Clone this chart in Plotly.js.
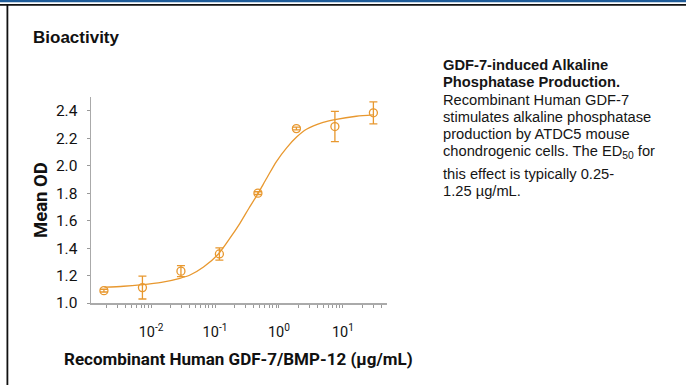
<!DOCTYPE html>
<html><head><meta charset="utf-8">
<script src="https://cdn.plot.ly/plotly-3.0.1.min.js"></script>
<style>html,body{margin:0;padding:0;background:#fff}#chart{width:686px;height:385px}</style>
</head><body><div id="chart"></div>
<script>
// Measured points (µg/mL, mean OD, ± error)
const concentration = [0.00183, 0.00732, 0.0293, 0.117, 0.469, 1.875, 7.5, 30];
const meanOD = [1.09, 1.112, 1.232, 1.357, 1.80, 2.27, 2.285, 2.385];
const errorOD = [0.01, 0.083, 0.04, 0.045, 0.01, 0.01, 0.11, 0.08];
// Fitted curve
const fitConcentration = [0.00186, 0.00372, 0.00676, 0.01445, 0.0282, 0.0407, 0.0661, 0.112, 0.170, 0.245, 0.339, 0.447, 0.646, 0.912, 1.318, 1.905, 2.69, 4.90, 7.50, 16.2, 29.5];
const fitOD = [1.115, 1.122, 1.132, 1.15, 1.18, 1.204, 1.262, 1.355, 1.47, 1.58, 1.69, 1.78, 1.91, 2.03, 2.13, 2.21, 2.265, 2.315, 2.335, 2.36, 2.37];
// Tick labels
const xDecades = [0.001, 0.01, 0.1, 1, 10];
const xMajorText = {0.01: '10<sup>-2</sup>', 0.1: '10<sup>-1</sup>', 1: '10<sup>0</sup>', 10: '10<sup>1</sup>'};
const yTickVals = [1.0, 1.2, 1.4, 1.6, 1.8, 2.0, 2.2, 2.4];
const yTickText = ['1.0', '1.2', '1.4', '1.6', '1.8', '2.0', '2.2', '2.4'];
// Texts
const sectionTitle = 'Bioactivity';
const yTitle = 'Mean OD';
const xTitle = 'Recombinant Human GDF-7/BMP-12 (µg/mL)';
const descLines = [
  '<b>GDF-7-induced Alkaline</b>',
  '<b>Phosphatase Production.</b>',
  'Recombinant Human GDF-7',
  'stimulates alkaline phosphatase',
  'production by ATDC5 mouse',
  'chondrogenic cells. The ED<sub>50</sub> for',
  'this effect is typically 0.25-',
  '1.25 µg/mL.'
];

const W = 686, H = 385;
const px = x => x / W, py = y => 1 - y / H;
const orange = '#E8982F';
const narrow = 'Roboto, "Liberation Sans Narrow", Arial, sans-serif';
const arial = 'Arial, "Liberation Sans", sans-serif';

// build log tick positions (decades plus 2..9 minors), labels only on decades
const xTickVals = [], xTickText = [];
xDecades.forEach(d => {
  for (let m = 1; m <= 9; m++) {
    const v = +(d * m).toPrecision(3);
    xTickVals.push(v);
    xTickText.push(m === 1 && xMajorText[d] ? xMajorText[d] : '');
  }
});

const traces = [
  {
    x: fitConcentration, y: fitOD, type: 'scatter', mode: 'lines',
    line: {color: orange, width: 1.3, shape: 'spline', smoothing: 0.8},
    hoverinfo: 'skip', showlegend: false
  },
  {
    x: concentration, y: meanOD, type: 'scatter', mode: 'markers',
    marker: {symbol: 'circle-open', size: 8, color: orange, line: {width: 1.3, color: orange}},
    error_y: {type: 'data', array: errorOD, visible: true, color: orange, thickness: 1.3, width: 4},
    showlegend: false
  }
];

const annotations = [
  {text: '<b>' + sectionTitle + '</b>', x: px(31), y: py(37), xref: 'paper', yref: 'paper',
   xanchor: 'left', yanchor: 'middle', showarrow: false, font: {family: arial, size: 17, color: '#111'}},
  {text: '<b>' + yTitle + '</b>', x: px(41), y: py(200), xref: 'paper', yref: 'paper', textangle: -90,
   xanchor: 'center', yanchor: 'middle', showarrow: false, font: {family: narrow, size: 18.5, color: '#111'}},
  {text: '<b>' + xTitle + '</b>', x: px(238), y: py(359), xref: 'paper', yref: 'paper',
   xanchor: 'center', yanchor: 'middle', showarrow: false, font: {family: narrow, size: 17, color: '#111'}}
];
const lineY = [65, 82, 100, 117, 134, 152, 174, 191];
descLines.forEach((t, i) => {
  annotations.push({text: t, x: px(441), y: py(lineY[i]), xref: 'paper', yref: 'paper',
    xanchor: 'left', yanchor: 'middle', showarrow: false, font: {family: arial, size: 14.7, color: '#151515'}});
});

const shapes = [
  {type: 'rect', xref: 'paper', yref: 'paper', x0: 0, x1: 1, y0: py(0), y1: py(2.3), fillcolor: '#1F5C99', line: {width: 0}},
  {type: 'rect', xref: 'paper', yref: 'paper', x0: 0, x1: 1, y0: py(4), y1: py(5.8), fillcolor: '#111', line: {width: 0}},
  {type: 'rect', xref: 'paper', yref: 'paper', x0: px(6.5), x1: px(8.3), y0: py(5), y1: 0, fillcolor: '#111', line: {width: 0}}
];

const layout = {
  width: W, height: H,
  margin: {l: 0, r: 0, t: 0, b: 0},
  paper_bgcolor: '#fff', plot_bgcolor: 'rgba(0,0,0,0)',
  showlegend: false,
  xaxis: {
    type: 'log', domain: [px(91), px(387)], range: [-2.94, 1.69],
    tickmode: 'array', tickvals: xTickVals, ticktext: xTickText,
    ticks: 'outside', ticklen: 3, tickwidth: 1, tickcolor: '#999',
    showline: true, linecolor: '#aaa', linewidth: 1.5,
    showgrid: false, zeroline: false, ticklabelstandoff: 12,
    tickfont: {family: narrow, size: 14.5, color: '#111'}
  },
  yaxis: {
    domain: [py(303), py(97)], range: [1.0, 2.5],
    tickmode: 'array', tickvals: yTickVals, ticktext: yTickText,
    ticks: 'outside', ticklen: 3, tickwidth: 1, tickcolor: '#999',
    showline: true, linecolor: '#aaa', linewidth: 1.5,
    showgrid: false, zeroline: false, ticklabelstandoff: 6,
    tickfont: {family: narrow, size: 15.5, color: '#111'}
  },
  annotations: annotations,
  shapes: shapes
};

Plotly.newPlot('chart', traces, layout, {displayModeBar: false, staticPlot: true});
</script>
</body></html>
